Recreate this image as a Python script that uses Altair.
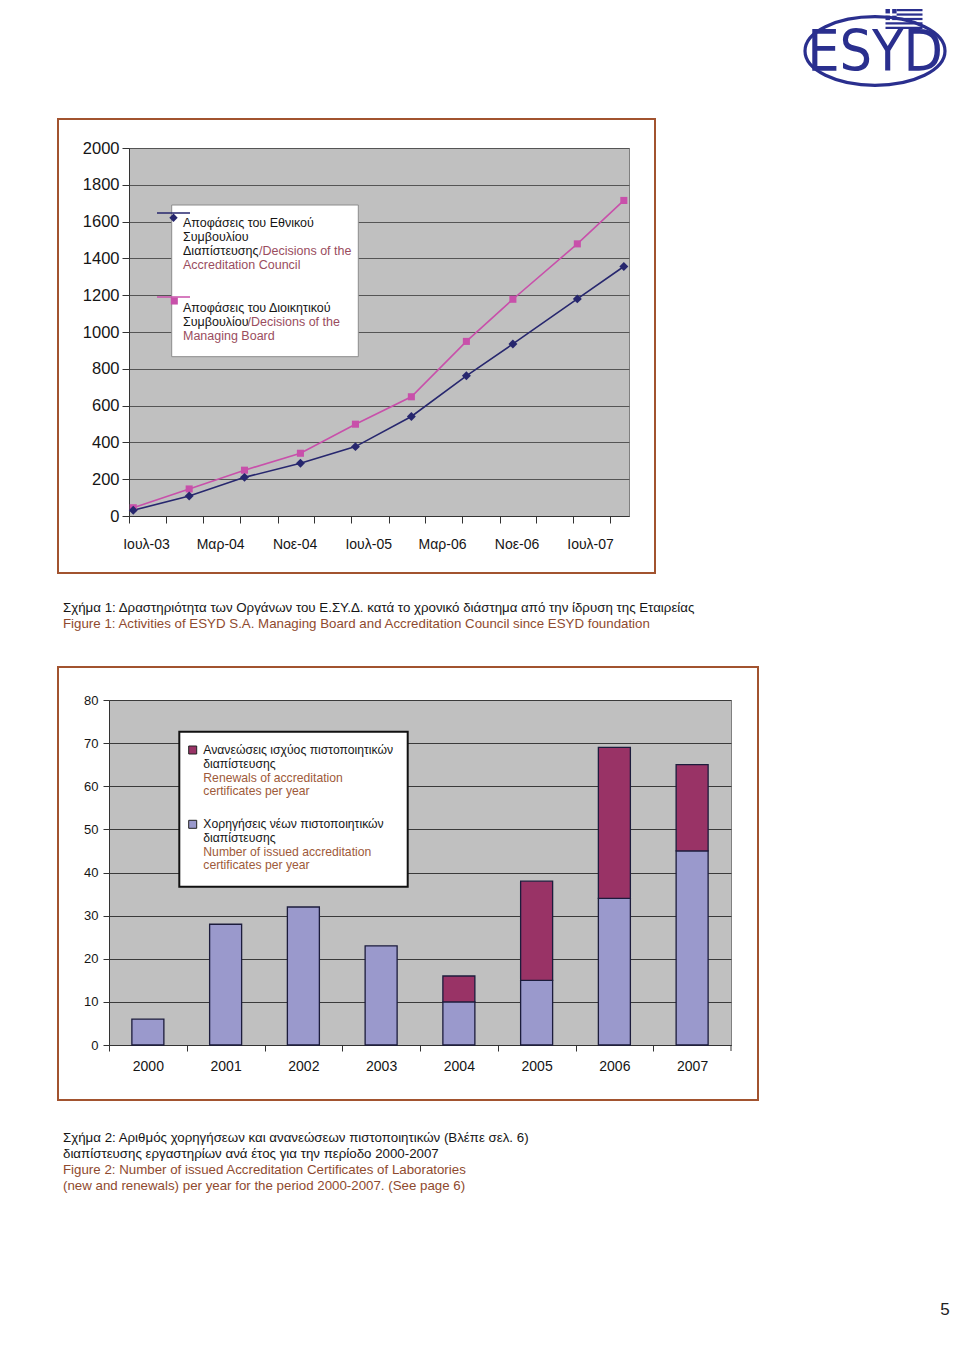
import json
import altair as alt
import pandas as pd

FONT = "Liberation Sans"

# ---------------- Figure 1 data ----------------
f1_dates = ["2003-07-15", "2004-01-15", "2004-07-15", "2005-01-15", "2005-07-15",
            "2006-01-15", "2006-07-15", "2006-12-15", "2007-07-15", "2007-12-15"]
f1_council = [31, 109, 210, 287, 377, 541, 762, 935, 1180, 1356]
f1_board = [45, 147, 249, 341, 499, 648, 949, 1178, 1479, 1715]
f1_series = ["Decisions of the Accreditation Council", "Decisions of the Managing Board"]
f1_tick_months = ["2003-07", "2003-11", "2004-03", "2004-07", "2004-11", "2005-03", "2005-07",
                  "2005-11", "2006-03", "2006-07", "2006-11", "2007-03", "2007-07", "2007-11"]
f1_tick_labels = ["Ιουλ-03", "", "Μαρ-04", "", "Νοε-04", "", "Ιουλ-05",
                  "", "Μαρ-06", "", "Νοε-06", "", "Ιουλ-07", ""]
f1_y_ticks = list(range(0, 2001, 200))

# ---------------- Figure 2 data ----------------
f2_years = ["2000", "2001", "2002", "2003", "2004", "2005", "2006", "2007"]
f2_new = [6, 28, 32, 23, 10, 15, 34, 45]
f2_renew = [0, 0, 0, 0, 6, 23, 35, 20]
f2_kinds = ["Number of issued accreditation certificates per year",
            "Renewals of accreditation certificates per year"]
f2_y_ticks = list(range(0, 81, 10))

# ---------------- colours ----------------
BLUE = "#27276e"
PINK = "#c850aa"
NEW_C = "#9a99cc"
REN_C = "#993366"
BAR_STROKE = "#1c1c3c"
FRAME = "#a2532f"
CAP_EN = "#8f4a2e"
LEG1_EN = "#9a4d5e"
LEG2_EN = "#9e5a3a"
LOGO = "#2a2f8e"
TXT = "#151515"

one = pd.DataFrame({"k": [0]})


def txt(s, x, y, color=TXT, size=12.5, align="left", font=FONT, weight="normal"):
    return alt.Chart(one).mark_text(text=s, align=align, baseline="middle", font=font,
                                    fontSize=size, color=color, fontWeight=weight).encode(
        x=alt.value(x), y=alt.value(y))


def box(x, x2, y, y2, stroke, sw, fill="white", fill_opacity=1.0):
    return alt.Chart(one).mark_rect(fill=fill, fillOpacity=fill_opacity, stroke=stroke,
                                    strokeWidth=sw).encode(
        x=alt.value(x), x2=alt.value(x2), y=alt.value(y), y2=alt.value(y2))


def solid(x, x2, y, y2, color):
    return alt.Chart(one).mark_rect(fill=color, strokeWidth=0).encode(
        x=alt.value(x), x2=alt.value(x2), y=alt.value(y), y2=alt.value(y2))


def hline(x, x2, y, color, sw):
    return alt.Chart(one).mark_rule(color=color, strokeWidth=sw).encode(
        x=alt.value(x), x2=alt.value(x2), y=alt.value(y))


def vline(x, y, y2, color, sw):
    return alt.Chart(one).mark_rule(color=color, strokeWidth=sw).encode(
        x=alt.value(x), y=alt.value(y), y2=alt.value(y2))


def sym(shape, x, y, size, color, filled=True, stroke=None, sw=1.0):
    kw = dict(shape=shape, size=size, filled=filled, opacity=1)
    if filled:
        kw["fill"] = color
    if stroke is not None:
        kw["stroke"] = stroke
        kw["strokeWidth"] = sw
    elif not filled:
        kw["stroke"] = color
        kw["strokeWidth"] = sw
    return alt.Chart(one).mark_point(**kw).encode(x=alt.value(x), y=alt.value(y))


# ---------------- Figure 1 ----------------
df1 = pd.DataFrame({
    "date": f1_dates * 2,
    "series": [f1_series[0]] * len(f1_dates) + [f1_series[1]] * len(f1_dates),
    "value": f1_council + f1_board,
})

tick_vals = [alt.DateTime(year=int(m[:4]), month=int(m[5:]), date=1) for m in f1_tick_months]
label_expr = (f"{json.dumps(f1_tick_labels, ensure_ascii=False)}"
              f"[indexof({json.dumps(f1_tick_months)}, timeFormat(datum.value, '%Y-%m'))]")

X1 = alt.X("date:T",
           scale=alt.Scale(domain=[alt.DateTime(year=2003, month=7, date=1),
                                   alt.DateTime(year=2008, month=1, date=1)]),
           axis=alt.Axis(values=tick_vals, labelExpr=label_expr, labelOffset=17,
                         labelFlush=False, labelOverlap=False, grid=False, title=None,
                         tickSize=7, labelPadding=14, labelFontSize=14, labelFont=FONT,
                         labelColor=TXT, domainColor="#333333", tickColor="#333333"))
Y1 = alt.Y("value:Q", scale=alt.Scale(domain=[0, 2000], nice=False),
           axis=alt.Axis(values=f1_y_ticks, format="d", title=None, grid=True,
                         gridColor="#555555", gridWidth=1, tickSize=7, labelPadding=3,
                         labelFontSize=16.5, labelFont=FONT, labelColor=TXT,
                         domainColor="#333333", tickColor="#333333"))

base1 = alt.Chart(df1)
line_c = base1.transform_filter(alt.datum.series == f1_series[0]).mark_line(
    color=BLUE, strokeWidth=1.6).encode(x=X1, y=Y1)
line_b = base1.transform_filter(alt.datum.series == f1_series[1]).mark_line(
    color=PINK, strokeWidth=1.6).encode(x=X1, y=Y1)
pts_c = base1.transform_filter(alt.datum.series == f1_series[0]).mark_point(
    shape="diamond", filled=True, size=80, color=BLUE, opacity=1).encode(x=X1, y=Y1)
pts_b = base1.transform_filter(alt.datum.series == f1_series[1]).mark_point(
    shape="square", filled=True, size=50, color=PINK, opacity=1).encode(x=X1, y=Y1)

legend1 = [
    box(42.7, 229.3, 57, 208.7, "#8c8c8c", 1),
    hline(28, 61, 65, BLUE, 1.6),
    sym("diamond", 44.5, 69.7, 70, BLUE),
    hline(28, 61, 149, PINK, 1.6),
    sym("square", 45.3, 153, 50, PINK),
    txt("Αποφάσεις του Εθνικού", 54, 75),
    txt("Συμβουλίου", 54, 89),
    txt("Διαπίστευσης", 54, 103),
    txt("/Decisions of the", 130, 103, LEG1_EN),
    txt("Accreditation Council", 54, 117, LEG1_EN),
    txt("Αποφάσεις του Διοικητικού", 54, 159.5),
    txt("Συμβουλίου", 54, 173.5),
    txt("/Decisions of the", 118.5, 173.5, LEG1_EN),
    txt("Managing Board", 54, 187.5, LEG1_EN),
]

captions1 = [
    txt("Σχήμα 1: Δραστηριότητα των Οργάνων του Ε.ΣΥ.Δ. κατά το χρονικό διάστημα από την ίδρυση της Εταιρείας",
        -66, 460, TXT, 13.3),
    txt("Figure 1: Activities of ESYD S.A. Managing Board and Accreditation Council since ESYD foundation",
        -66, 476, CAP_EN, 13.3),
]

# logo (top right of the page): ellipse drawn with quadrant beziers (tight bounds)
ry = 0.49
k = 0.5523
ellipse_path = (f"M -1 0 C -1 {-k * ry:.4f} {-k:.4f} {-ry} 0 {-ry} "
                f"C {k:.4f} {-ry} 1 {-k * ry:.4f} 1 0 "
                f"C 1 {k * ry:.4f} {k:.4f} {ry} 0 {ry} "
                f"C {-k:.4f} {ry} -1 {k * ry:.4f} -1 0 Z")

LCX = 746  # logo centre (x, relative to the top plot)

# Greek flag built from rectangles: left edge fx, top fy, stripe height st
fx, fy, st = LCX + 10.5, -139.0, 20.0 / 9
fw = 37.0
flag = [
    solid(fx, fx + 2 * st, fy, fy + 2 * st, LOGO),
    solid(fx + 3 * st, fx + 5 * st, fy, fy + 2 * st, LOGO),
    solid(fx, fx + 2 * st, fy + 3 * st, fy + 5 * st, LOGO),
    solid(fx + 3 * st, fx + 5 * st, fy + 3 * st, fy + 5 * st, LOGO),
]
for r in (0, 2, 4):
    flag.append(solid(fx + 5 * st, fx + fw, fy + r * st, fy + (r + 1) * st, LOGO))
for r in (6, 8):
    flag.append(solid(fx, fx + fw, fy + r * st, fy + (r + 1) * st, LOGO))

logo = [
    sym(ellipse_path, LCX, -97, 140 * 140, LOGO, filled=False, sw=3.2),
    *flag,
    txt("ESYD", LCX, -94, LOGO, 57, "center",
        "Liberation Sans Narrow, Arial Narrow, DejaVu Sans Condensed, sans-serif"),
]

frame1 = box(-71, 526, -29, 425, FRAME, 2, fill="white", fill_opacity=0)

top = alt.layer(frame1, line_b, line_c, pts_b, pts_c, *legend1, *captions1, *logo).properties(
    width=500, height=368)

spacer = alt.Chart(one).mark_point(opacity=0).encode(
    x=alt.value(1), y=alt.value(1)).properties(
    width=20, height=368,
    view=alt.ViewBackground(fill="transparent", stroke="transparent"))

top_row = alt.hconcat(spacer, top, spacing=0, bounds="flush")

# ---------------- Figure 2 ----------------
rows = []
for i, yr in enumerate(f2_years):
    rows.append({"year": yr, "kind": f2_kinds[0], "value": f2_new[i], "ord": 0})
    rows.append({"year": yr, "kind": f2_kinds[1], "value": f2_renew[i], "ord": 1})
df2 = pd.DataFrame(rows)

X2 = alt.X("year:N", sort=f2_years, scale=alt.Scale(paddingInner=0, paddingOuter=0),
           axis=alt.Axis(title=None, labelAngle=0, tickOffset=-38.875, labelOffset=38.875,
                         tickSize=6, labelPadding=8, labelFontSize=14, labelFont=FONT,
                         labelColor=TXT, domainColor="#333333", tickColor="#333333",
                         grid=False))
Y2 = alt.Y("value:Q", stack="zero", scale=alt.Scale(domain=[0, 80], nice=False),
           axis=alt.Axis(values=f2_y_ticks, title=None, grid=True, gridColor="#3a3a3a",
                         gridWidth=1, tickSize=6, labelPadding=5, labelFontSize=13,
                         labelFont=FONT, labelColor=TXT, domainColor="#333333",
                         tickColor="#333333"))

bars = alt.Chart(df2).transform_filter("datum.value > 0").mark_bar(
    size=32, stroke=BAR_STROKE, strokeWidth=1.3).encode(
    x=X2, y=Y2,
    color=alt.Color("kind:N", scale=alt.Scale(domain=f2_kinds, range=[NEW_C, REN_C]), legend=None),
    order=alt.Order("ord:Q", sort="ascending"))

legend2 = [
    box(70.3, 298.7, 31.7, 186.7, "#111111", 2),
    sym("square", 83.7, 50, 64, REN_C, stroke="#222222", sw=1),
    sym("square", 83.7, 124.3, 64, NEW_C, stroke="#222222", sw=1),
    txt("Ανανεώσεις ισχύος πιστοποιητικών", 94.3, 50, TXT, 12.2),
    txt("διαπίστευσης", 94.3, 64, TXT, 12.2),
    txt("Renewals of accreditation", 94.3, 77.5, LEG2_EN, 12.2),
    txt("certificates per year", 94.3, 91, LEG2_EN, 12.2),
    txt("Χορηγήσεις νέων πιστοποιητικών", 94.3, 124.3, TXT, 12.2),
    txt("διαπίστευσης", 94.3, 138, TXT, 12.2),
    txt("Number of issued accreditation", 94.3, 151.7, LEG2_EN, 12.2),
    txt("certificates per year", 94.3, 165, LEG2_EN, 12.2),
]

captions2 = [
    txt("Σχήμα 2: Αριθμός χορηγήσεων και ανανεώσεων πιστοποιητικών (Βλέπε σελ. 6)", -46, 438, TXT, 13.3),
    txt("διαπίστευσης εργαστηρίων ανά έτος για την περίοδο 2000-2007", -46, 454, TXT, 13.3),
    txt("Figure 2: Number of issued Accreditation Certificates of Laboratories", -46, 470, CAP_EN, 13.3),
    txt("(new and renewals) per year for the period 2000-2007. (See page 6)", -46, 486, CAP_EN, 13.3),
    txt("5", 836, 610, "#222222", 17, "center"),
]

frame2 = box(-51, 649, -33, 400, FRAME, 2, fill="white", fill_opacity=0)
end_tick = vline(622, 345, 351, "#333333", 1)

bottom = alt.layer(frame2, bars, end_tick, *legend2, *captions2).properties(width=622, height=345)

chart = alt.vconcat(top_row, bottom, spacing=552, bounds="flush").properties(
    padding={"left": 48, "top": 0, "right": 0, "bottom": 0},
    background="white",
).configure(font=FONT).configure_view(fill="#c0c0c0", stroke="#808080", strokeWidth=1)

chart.save("out.html", embed_options={"renderer": "svg", "actions": False})
